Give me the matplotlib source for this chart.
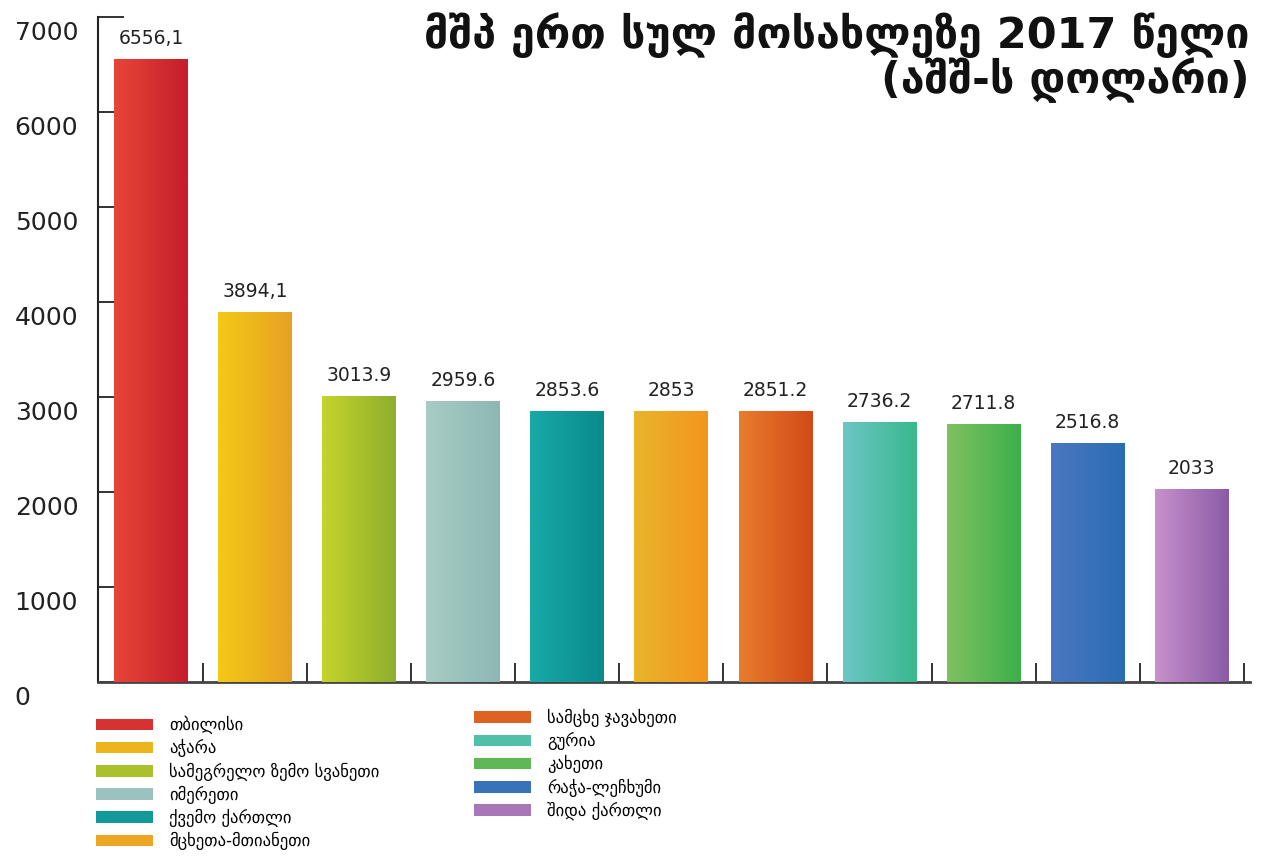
import numpy as np
import matplotlib
matplotlib.use("Agg")
import matplotlib.pyplot as plt
from matplotlib.colors import LinearSegmentedColormap, to_rgb
from matplotlib.transforms import ScaledTranslation

# მშპ ერთ სულ მოსახლეზე რეგიონების მიხედვით, 2017
regions = ["თბილისი", "აჭარა", "სამეგრელო ზემო სვანეთი", "იმერეთი",
           "ქვემო ქართლი", "მცხეთა-მთიანეთი", "სამცხე ჯავახეთი", "გურია",
           "კახეთი", "რაჭა-ლეჩხუმი", "შიდა ქართლი"]
gdp = [6556.1, 3894.1, 3013.9, 2959.6, 2853.6, 2853, 2851.2, 2736.2,
       2711.8, 2516.8, 2033]
dec_sep = [",", ",", ".", ".", ".", ".", ".", ".", ".", ".", "."]

# ზოლების ფერები: მარცხენა (ღია) და მარჯვენა (მუქი) კიდე
light = ["#e8453a", "#f4c816", "#c4d42a", "#a8cbc6", "#18aaa8", "#e9b52a",
         "#e97c2c", "#6cc6c4", "#80c060", "#4a78c0", "#c890cc"]
dark = ["#c41f2a", "#e6a224", "#8fae2e", "#8db8b2", "#0b8a8c", "#f3951e",
        "#d24a18", "#38b88e", "#3cb04a", "#2a6cb4", "#8a5ca6"]
mid = [tuple((np.array(to_rgb(a)) + np.array(to_rgb(b))) / 2)
       for a, b in zip(light, dark)]

fig = plt.figure(figsize=(12.65, 8.61), dpi=100)
ax = fig.add_axes([98 / 1265, 1 - 682 / 861, 1152 / 1265, 665 / 861])

x = np.arange(len(gdp))
bars = ax.bar(x, gdp, width=0.71, color=mid, label=regions, zorder=2)

# ჰორიზონტალური გრადიენტი თითოეულ ზოლზე
grad = np.linspace(0, 1, 64).reshape(1, -1)
for b, c1, c2 in zip(bars, light, dark):
    cmap = LinearSegmentedColormap.from_list("g", [c1, c2])
    x0, w, h = b.get_x(), b.get_width(), b.get_height()
    im = ax.imshow(grad, cmap=cmap, aspect="auto", extent=[x0, x0 + w, 0, h],
                   zorder=3, interpolation="bilinear")
    im.set_clip_path(b)

for b, v, sep in zip(bars, gdp, dec_sep):
    txt = f"{v:g}".replace(".", sep)
    ax.annotate(txt, (b.get_x() + b.get_width() / 2, v), xytext=(0, 8),
                textcoords="offset points", ha="center", va="bottom",
                fontsize=13.5, color="#222222", zorder=4)

ax.set_xlim(-0.51, 10.56)
ax.set_ylim(0, 7000)
ax.set_yticks(np.arange(0, 7001, 1000))
ax.set_xticks(x + 0.5)
ax.set_xticklabels([])
ax.tick_params(axis="y", direction="in", length=19, width=1.3,
               labelsize=18, pad=60, colors="#222222")
ax.tick_params(axis="x", direction="in", length=14, width=1.3,
               colors="#222222")
off = ScaledTranslation(0, -10 / 72, fig.dpi_scale_trans)
for lab in ax.get_yticklabels():
    lab.set_horizontalalignment("left")
    lab.set_transform(lab.get_transform() + off)

for s in ["top", "right"]:
    ax.spines[s].set_visible(False)
ax.spines["left"].set_linewidth(1.5)
ax.spines["left"].set_color("#222222")
ax.spines["bottom"].set_linewidth(2)
ax.spines["bottom"].set_color("#444444")

fig.text(1250 / 1265, 1 - 35 / 861, "მშპ ერთ სულ მოსახლეზე 2017 წელი",
         ha="right", va="center", fontsize=31, fontweight="bold", color="#111111")
fig.text(1250 / 1265, 1 - 80 / 861, "(აშშ-ს დოლარი)",
         ha="right", va="center", fontsize=31, fontweight="bold", color="#111111")

handles = list(bars)
leg_kw = dict(frameon=False, fontsize=12, handlelength=3.4, handleheight=0.7,
              handletextpad=1.0, labelspacing=0.3, borderpad=0,
              borderaxespad=0, loc="upper left")
leg1 = fig.legend(handles[:6], regions[:6],
                  bbox_to_anchor=(96 / 1265, 1 - 716 / 861), **leg_kw)
leg2 = fig.legend(handles[6:], regions[6:],
                  bbox_to_anchor=(474 / 1265, 1 - 709 / 861), **leg_kw)

fig.savefig("out.png", dpi=100)
